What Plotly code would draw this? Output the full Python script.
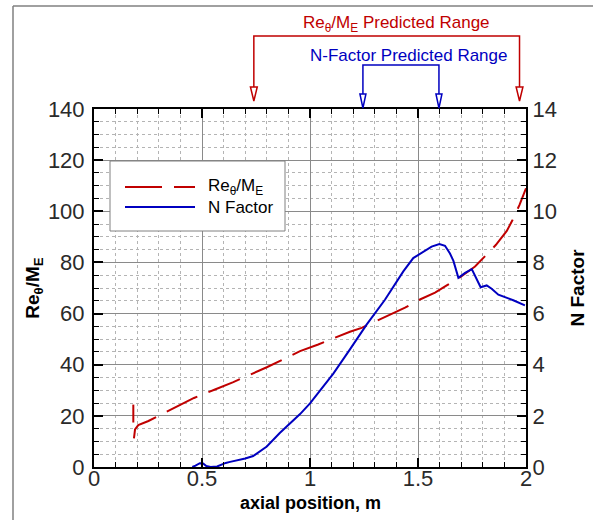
import plotly.graph_objects as go

# Re_theta / M_E along the axial position (left axis)
re_x = [0.182, 0.182, None, 0.185, 0.19, 0.205, 0.252, 0.298, 0.414, 0.463, 0.56, 0.645,
        0.8, 0.954, 1.038, 1.185, 1.239, 1.386, 1.44, 1.509, 1.579, 1.633, 1.70, 1.764,
        1.806, 1.86, 1.911, 1.937, 1.97, 2.0]
re_y = [24.4, 17.4, None, 11.2, 14.7, 16.4, 18.0, 20.0, 25.0, 27.0, 30.3, 33.2,
        39.0, 45.3, 47.9, 52.9, 54.4, 60.0, 62.3, 65.5, 68.2, 71.0, 74.5, 78.4,
        81.9, 86.8, 92.3, 96.5, 102.5, 109.0]

# N factor along the axial position (right axis)
n_x = [0.455, 0.47, 0.49, 0.505, 0.52, 0.54, 0.57, 0.59, 0.61, 0.63, 0.66, 0.70, 0.737,
       0.8, 0.86, 0.954, 1.0, 1.108, 1.185, 1.262, 1.347, 1.378, 1.432, 1.478, 1.525,
       1.563, 1.599, 1.625, 1.648, 1.664, 1.687, 1.718, 1.749, 1.764, 1.79, 1.818,
       1.841, 1.872, 1.903, 1.941, 1.995]
n_y = [0.0, 0.05, 0.15, 0.14, 0.04, 0.0, 0.02, 0.1, 0.16, 0.2, 0.25, 0.33, 0.43,
       0.8, 1.33, 2.07, 2.49, 3.65, 4.6, 5.57, 6.54, 6.94, 7.65, 8.17, 8.43,
       8.62, 8.72, 8.65, 8.35, 8.06, 7.4, 7.59, 7.74, 7.48, 7.03, 7.10,
       6.97, 6.74, 6.65, 6.52, 6.32]

# predicted ranges (axial position, m)
re_range = [0.74, 1.97]
n_range = [1.245, 1.597]

RE_NAME = "Re<sub>θ</sub>/M<sub>E</sub>"
N_NAME = "N Factor"
X_TITLE = "axial position, m"

RED = "#c00000"
BLUE = "#0000c0"
FONT = "Liberation Sans"
RE_DASH = "34px,12px"

# plot area in pixels: 432 wide, 358 tall
PW, PH = 432.0, 358.0


def px_x(p):
    return (p - 94) / PW


def px_y(p):
    return (467 - p) / PH


fig = go.Figure()
fig.add_trace(go.Scatter(
    x=re_x, y=re_y, mode="lines", name=RE_NAME, showlegend=False,
    line=dict(color=RED, width=2, dash=RE_DASH), connectgaps=False))
fig.add_trace(go.Scatter(
    x=n_x, y=n_y, mode="lines", name=N_NAME, yaxis="y2", showlegend=False,
    line=dict(color=BLUE, width=2)))

grid_major = "#8a8a8a"
grid_minor = "#b4b4b4"
tickfont = dict(family=FONT, size=22, color="#2a2a2a")
titlefont = dict(family=FONT, size=19, color="#000", weight="bold")

fig.update_layout(
    width=593, height=520,
    margin=dict(l=94, r=67, t=109, b=53),
    paper_bgcolor="white", plot_bgcolor="white",
    showlegend=False,
    xaxis=dict(
        range=[0, 2], dtick=0.5, tick0=0, automargin=False,
        showline=True, linecolor="black", linewidth=2, mirror="ticks",
        ticks="inside", ticklen=9, tickwidth=2, tickcolor="black",
        showgrid=True, gridcolor=grid_major, gridwidth=1,
        zeroline=False, tickfont=tickfont, ticklabelstandoff=-9,
        minor=dict(dtick=0.1, ticks="inside", ticklen=5, tickwidth=1,
                   tickcolor="black", showgrid=True, gridcolor=grid_minor,
                   griddash="dot", gridwidth=1),
    ),
    yaxis=dict(
        range=[0, 140], dtick=20, tick0=0, automargin=False,
        showline=True, linecolor="black", linewidth=2,
        ticks="inside", ticklen=9, tickwidth=2, tickcolor="black",
        showgrid=True, gridcolor=grid_major, gridwidth=1,
        zeroline=False, tickfont=tickfont, ticklabelstandoff=3,
        minor=dict(dtick=5, ticks="inside", ticklen=5, tickwidth=1,
                   tickcolor="black", showgrid=True, gridcolor=grid_minor,
                   griddash="dot", gridwidth=1),
        title=dict(text=RE_NAME, font=titlefont, standoff=3),
    ),
    yaxis2=dict(
        range=[0, 14], dtick=2, tick0=0, overlaying="y", side="right",
        automargin=False,
        showline=True, linecolor="black", linewidth=2,
        ticks="inside", ticklen=9, tickwidth=2, tickcolor="black",
        showgrid=False, zeroline=False, tickfont=tickfont, ticklabelstandoff=0,
        minor=dict(dtick=0.5, ticks="inside", ticklen=5, tickwidth=1,
                   tickcolor="black", showgrid=False),
        title=dict(text=N_NAME, font=titlefont, standoff=15),
    ),
)

# x-axis title placed just under the tick labels
fig.add_annotation(x=0.5, y=px_y(503), xref="paper", yref="paper", text=X_TITLE,
                   showarrow=False, xanchor="center", yanchor="middle",
                   font=dict(family=FONT, size=18, color="#000", weight="bold"))

# outer frame (left and top edges)
fig.add_shape(type="line", xref="paper", yref="paper", x0=px_x(13), x1=px_x(13),
              y0=px_y(540), y1=px_y(6), line=dict(color="#808080", width=1.5))
fig.add_shape(type="line", xref="paper", yref="paper", x0=px_x(13), x1=px_x(600),
              y0=px_y(6), y1=px_y(6), line=dict(color="#808080", width=1.5))

# legend box with line samples and labels
fig.add_shape(type="rect", xref="paper", yref="paper",
              x0=px_x(110), x1=px_x(285), y0=px_y(231), y1=px_y(161),
              fillcolor="white", line=dict(color="#808080", width=1), layer="above")
legend_rows = [(RE_NAME, RED, "37px,12px", 187), (N_NAME, BLUE, "solid", 207)]
for label, color, dash, ypix in legend_rows:
    fig.add_shape(type="line", xref="paper", yref="paper",
                  x0=px_x(125), x1=px_x(195), y0=px_y(ypix), y1=px_y(ypix),
                  line=dict(color=color, width=2, dash=dash), layer="above")
    fig.add_annotation(x=px_x(206), y=px_y(ypix), xref="paper", yref="paper",
                       text=label, showarrow=False, xanchor="left", yanchor="middle",
                       font=dict(family=FONT, size=17, color="#000"))


def bracket(xr, y_bar, y_tip, color, half_w, head_h):
    """Bracket above the plot with open triangular arrowheads pointing down."""
    y_base = y_tip + head_h / PH
    fig.add_shape(type="path", xref="x", yref="paper",
                  path=f"M{xr[0]},{y_base} L{xr[0]},{y_bar} L{xr[1]},{y_bar} L{xr[1]},{y_base}",
                  line=dict(color=color, width=1.5))
    dx = half_w * 2.0 / PW
    for xv in xr:
        fig.add_shape(type="path", xref="x", yref="paper",
                      path=f"M{xv - dx},{y_base} L{xv + dx},{y_base} L{xv},{y_tip} Z",
                      fillcolor="white", line=dict(color=color, width=1.5))


bracket(re_range, px_y(36), px_y(101), RED, 3.4, 14)
bracket(n_range, px_y(65), px_y(108), BLUE, 3.0, 14)

fig.add_annotation(x=px_x(396), y=px_y(24), xref="paper", yref="paper",
                   text="Re<sub>θ</sub>/M<sub>E</sub> Predicted Range", showarrow=False,
                   font=dict(family=FONT, size=17, color=RED), xanchor="center", yanchor="middle")
fig.add_annotation(x=px_x(408), y=px_y(55), xref="paper", yref="paper",
                   text="N-Factor Predicted Range", showarrow=False,
                   font=dict(family=FONT, size=17, color=BLUE), xanchor="center", yanchor="middle")

fig.write_html("out.html")
